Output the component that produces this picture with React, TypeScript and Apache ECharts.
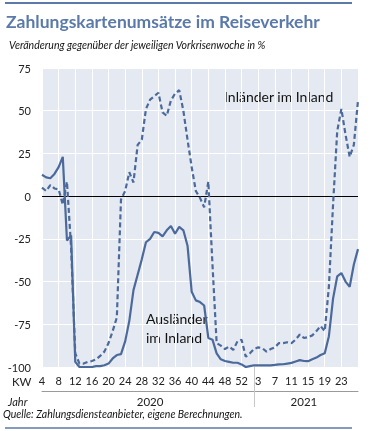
import React, { useEffect, useRef } from 'react';
import * as echarts from 'echarts';

const years = ['2020', '2021'];
const weeks2020 = [4, 5, 6, 7, 8, 9, 10, 11, 12, 13, 14, 15, 16, 17, 18, 19, 20, 21, 22, 23, 24, 25, 26, 27, 28, 29, 30, 31, 32, 33, 34, 35, 36, 37, 38, 39, 40, 41, 42, 43, 44, 45, 46, 47, 48, 49, 50, 51, 52, 53];
const weeks2021 = [1, 2, 3, 4, 5, 6, 7, 8, 9, 10, 11, 12, 13, 14, 15, 16, 17, 18, 19, 20, 21, 22, 23, 24, 25, 26, 27];

// Ausländer im Inland (solid)
const auslaender = [
  12.5, 11, 10.5, 13, 17, 23, -26, -23, -97, -100,
  -100, -100, -100, -99.5, -99.5, -99, -98, -95, -93, -92.5,
  -85, -73, -55, -46, -37, -27, -25, -21, -21.5, -23.5,
  -20, -17.5, -22, -18, -20, -29, -56, -61, -62, -64,
  -83, -84, -92, -95.5, -96.5, -97, -97.5, -97.5, -98.5, -100,
  -99.5, -99, -99, -99, -99, -99, -98.8, -98.5, -98.4, -98,
  -97.6, -96.8, -96, -96.5, -96.6, -95.5, -94.5, -93, -92, -82,
  -60, -47, -45, -50, -53, -40, -31,
];

// Inländer im Inland (dashed)
const inlaender = [
  5, 3, 6.5, 4.5, 4, -5, 8.5, -30, -92, -98,
  -98, -97, -96.5, -95.5, -93.5, -91, -86, -79, -71, -2,
  3, 14, 8, 30, 33, 51, 56.5, 58.5, 60.5, 49,
  47, 56, 60, 62, 50, 33, 17, 3, -1, -6.5,
  8.5, -40, -86, -87.5, -89.5, -88, -90, -85, -84, -94,
  -92, -89.5, -88.5, -89, -91, -89.5, -88.5, -86, -86, -85.5,
  -86, -84, -81, -83, -82.5, -81.5, -79, -76, -79, -53,
  -5, 38, 51, 36, 23, 30, 56,
];

const categories = [
  ...weeks2020.map((w) => `${years[0]} KW ${w}`),
  ...weeks2021.map((w) => `${years[1]} KW ${w}`),
];

const BLUE = '#4b6a9b';
const TITLE_BLUE = '#5b7aa9';
const FONT = 'Lato, "Open Sans", sans-serif';

export default function App() {
  const ref = useRef<HTMLDivElement>(null);
  useEffect(() => {
    if (!ref.current) return;
    const chart = echarts.init(ref.current, undefined, { renderer: 'svg' });
    const yearBoundary = weeks2020.length + 1;
    const yearLabelIdx = [26, 63];
    const lastIdx = categories.length - 1;
    chart.setOption({
      animation: false,
      textStyle: { fontFamily: FONT },
      grid: {
        left: 42,
        right: 12,
        top: 68,
        bottom: 64,
        show: true,
        backgroundColor: '#e5e9f1',
        borderWidth: 0,
      },
      xAxis: [
        {
          type: 'category',
          data: categories,
          boundaryGap: false,
          axisLine: { show: false, onZero: false },
          axisTick: {
            show: true,
            interval: (idx: number) => idx === yearBoundary,
            length: 24,
            lineStyle: { color: '#c8c8c8', width: 1 },
          },
          axisLabel: {
            interval: (idx: number) => idx % 4 === 0 && idx < lastIdx,
            formatter: (v: string) => v.split(' KW ')[1],
            color: '#222',
            fontSize: 11,
            margin: 8,
            fontFamily: FONT,
          },
          splitLine: {
            show: true,
            interval: (idx: number) => idx % 4 === 0,
            lineStyle: { color: '#ffffff', width: 1 },
          },
        },
        {
          type: 'category',
          data: categories,
          boundaryGap: false,
          position: 'bottom',
          offset: 24,
          axisLine: { show: true, onZero: false, lineStyle: { color: '#9a9a9a', width: 1 } },
          axisTick: {
            show: true,
            interval: (idx: number) => idx === yearBoundary,
            length: 16,
            lineStyle: { color: '#c8c8c8', width: 1 },
          },
          axisLabel: {
            interval: (idx: number) => yearLabelIdx.includes(idx),
            formatter: (v: string) => v.split(' ')[0],
            color: '#222',
            fontSize: 11.5,
            margin: 4,
            fontFamily: FONT,
          },
          splitLine: { show: false },
        },
      ],
      yAxis: {
        type: 'value',
        min: -100,
        max: 75,
        interval: 25,
        axisLine: { show: false },
        axisTick: { show: false },
        axisLabel: { color: '#222', fontSize: 11, margin: 11, fontFamily: FONT },
        splitLine: { show: true, lineStyle: { color: '#ffffff', width: 1 } },
      },
      series: [
        {
          name: 'Inländer im Inland',
          type: 'line',
          data: inlaender,
          symbol: 'none',
          lineStyle: { color: BLUE, width: 2.2, type: [5, 3] },
          z: 3,
        },
        {
          name: 'Ausländer im Inland',
          type: 'line',
          data: auslaender,
          symbol: 'none',
          lineStyle: { color: BLUE, width: 2.2 },
          z: 4,
          markLine: {
            silent: true,
            symbol: ['none', 'none'],
            label: { show: false },
            lineStyle: { color: '#000', width: 1, type: 'solid' },
            data: [{ yAxis: 0 }],
            z: 2,
          },
        },
      ],
      graphic: [
        { type: 'line', shape: { x1: 5, y1: 3, x2: 352, y2: 3 }, style: { stroke: TITLE_BLUE, lineWidth: 2 } },
        {
          type: 'text', x: 6, y: 21,
          style: { text: 'Zahlungskartenumsätze im Reiseverkehr', font: `bold 17.5px ${FONT}`, fill: TITLE_BLUE, textVerticalAlign: 'middle' },
        },
        {
          type: 'text', x: 9, y: 45,
          style: { text: 'Veränderung gegenüber der jeweiligen Vorkrisenwoche in %', font: `italic 10.5px ${FONT}`, fill: '#111', textVerticalAlign: 'middle' },
        },
        {
          type: 'text', x: 12, y: 381,
          style: { text: 'KW', font: `11.5px ${FONT}`, fill: '#222', textVerticalAlign: 'middle' },
        },
        {
          type: 'text', x: 8, y: 401,
          style: { text: 'Jahr', font: `italic 11px ${FONT}`, fill: '#222', textVerticalAlign: 'middle' },
        },
        {
          type: 'text', x: 3, y: 414,
          style: { text: 'Quelle: Zahlungsdiensteanbieter, eigene Berechnungen.', font: `italic 10.5px ${FONT}`, fill: '#111', textVerticalAlign: 'middle' },
        },
        { type: 'line', shape: { x1: 5, y1: 428, x2: 352, y2: 428 }, style: { stroke: TITLE_BLUE, lineWidth: 1.5 } },
        {
          type: 'text', x: 224, y: 96,
          style: { text: 'Inländer im Inland', font: `14px ${FONT}`, fill: '#111', textVerticalAlign: 'middle' },
        },
        {
          type: 'text', x: 146, y: 318,
          style: { text: 'Ausländer', font: `14px ${FONT}`, fill: '#111', textVerticalAlign: 'middle' },
        },
        {
          type: 'text', x: 146, y: 337,
          style: { text: 'im Inland', font: `14px ${FONT}`, fill: '#111', textVerticalAlign: 'middle' },
        },
      ],
    });
    return () => chart.dispose();
  }, []);
  return <div ref={ref} style={{ position: 'fixed', left: 0, top: 0, width: 370, height: 431 }} />;
}
